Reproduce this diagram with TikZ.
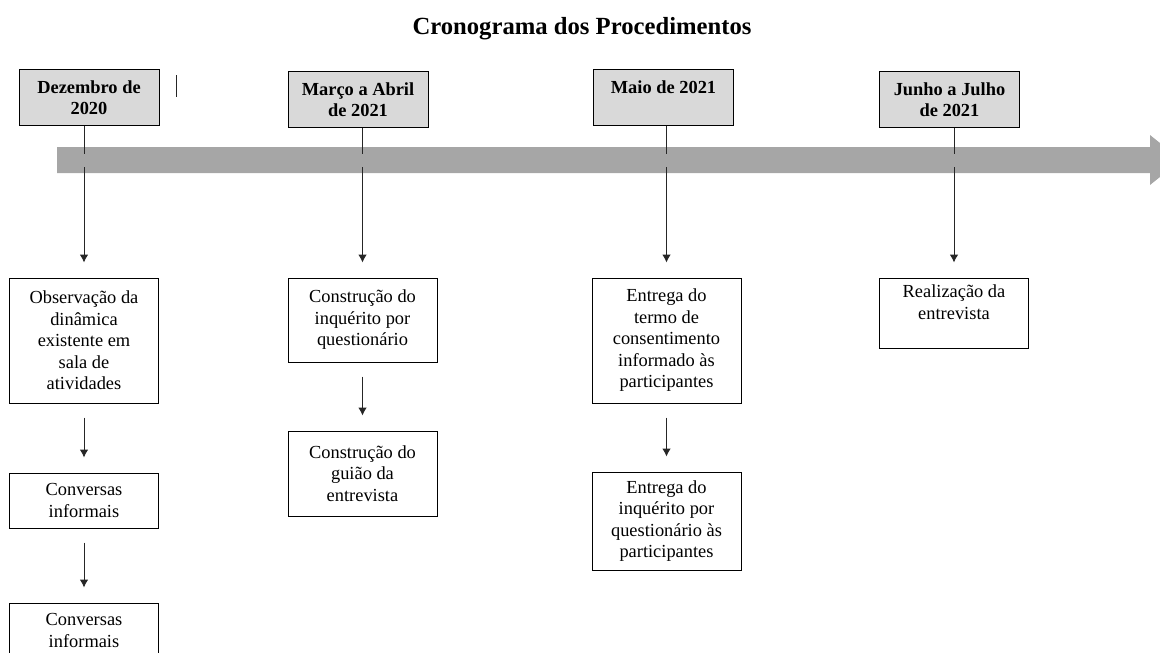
\documentclass[tikz,border=0pt]{standalone}
\usepackage{fontspec}
\setmainfont{Liberation Serif}
\usepackage{tikz}
\usetikzlibrary{calc,arrows.meta}

\definecolor{bandgray}{HTML}{A6A6A6}
\definecolor{boxgray}{HTML}{D9D9D9}

\begin{document}
\begin{tikzpicture}[x=0.75pt,y=-0.75pt,
    mes/.style={draw,fill=boxgray,line width=0.75pt,minimum width=105pt,minimum height=42pt,
        align=center,inner sep=2pt,font=\fontsize{13.8}{15.5}\selectfont\bfseries},
    tarefa/.style={draw,line width=0.75pt,minimum width=111.75pt,align=center,inner sep=2pt,
        font=\fontsize{13.8}{16.1}\selectfont},
    liga/.style={line width=0.75pt,black!85},
    seta/.style={liga,-{Latex[length=6pt,width=6.5pt]},shorten <=10.5pt,shorten >=11.25pt}]
    \useasboundingbox (0,0) rectangle (1160,653);
    % titulo
    \node (titulo) at (582,29) {\fontsize{18.5}{22}\selectfont\bfseries Cronograma dos Procedimentos};
    % linha do tempo
    \fill[bandgray] (57,147) -- (1150,147) -- (1150,135) -- (1181,160) -- (1150,185) -- (1150,173) -- (57,173) -- cycle;
    \coordinate (bandtop) at (0,154);
    \coordinate (bandbot) at (0,167);
    \draw[liga] (176,75) -- (176,97);
    % meses
    \node[mes] (dez) at (89,97.5) {Dezembro de\\2020};
    \node[mes] (mar) at (358,99.5) {Março a Abril\\de 2021};
    \node[mes] (mai) at (663.5,97) {Maio de 2021\\\mbox{}};
    \node[mes] (jun) at (949.5,99.5) {Junho a Julho\\de 2021};
    % tarefas
    \node[tarefa,minimum height=93.75pt] (obs) at (84,340.5) {Observação da\\dinâmica\\existente em\\sala de\\atividades};
    \node[tarefa,minimum height=41.25pt] (conv1) at (84,500.5) {Conversas\\informais};
    \node[tarefa,minimum height=41.25pt] (conv2) at (84,630.5) {Conversas\\informais};
    \node[tarefa,minimum height=63pt] (cq) at (362.5,320) {Construção do\\inquérito por\\questionário};
    \node[tarefa,minimum height=63.75pt] (cg) at (362.5,473.5) {Construção do\\guião da\\entrevista};
    \node[tarefa,minimum height=93.75pt] (et) at (666.5,340.5) {Entrega do\\termo de\\consentimento\\informado às\\participantes};
    \node[tarefa,minimum height=73.5pt] (ei) at (666.5,521) {Entrega do\\inquérito por\\questionário às\\participantes};
    \node[tarefa,minimum height=52.5pt] (re) at (954,313) {Realização da\\entrevista\\\mbox{}};
    % ligacoes
    \draw[liga] (dez.south -| obs.north) -- (obs.north |- bandtop);
    \draw[seta,shorten <=0pt] (obs.north |- bandbot) -- (obs.north);
    \draw[liga] (mar.south -| cq.north) -- (cq.north |- bandtop);
    \draw[seta,shorten <=0pt] (cq.north |- bandbot) -- (cq.north);
    \draw[liga] (mai.south -| et.north) -- (et.north |- bandtop);
    \draw[seta,shorten <=0pt] (et.north |- bandbot) -- (et.north);
    \draw[liga] (jun.south -| re.north) -- (re.north |- bandtop);
    \draw[seta,shorten <=0pt] (re.north |- bandbot) -- (re.north);
    \draw[seta] (obs.south) -- (conv1.north);
    \draw[seta] (conv1.south) -- (conv2.north);
    \draw[seta] (cq.south) -- (cg.north);
    \draw[seta] (et.south) -- (ei.north);
\end{tikzpicture}
\end{document}
